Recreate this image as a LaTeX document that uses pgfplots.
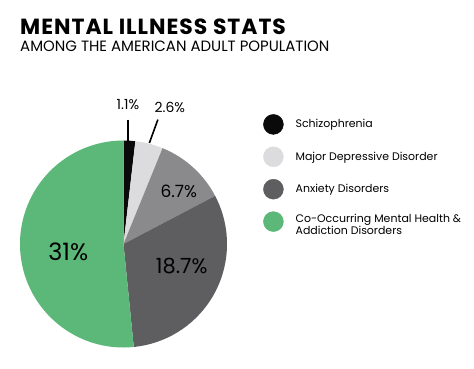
\documentclass[border=0pt]{standalone}
\usepackage{pgfplots}
\pgfplotsset{compat=1.18}
\usepackage{pgfplotstable}
\usepackage{fontspec}
\setmainfont{Poppins}
\definecolor{cSch}{HTML}{0A0A0A}
\definecolor{cMdd}{HTML}{DCDCDE}
\definecolor{cMid}{HTML}{8A8A8C}
\definecolor{cAnx}{HTML}{5E5E61}
\definecolor{cCo}{HTML}{5CB878}
\pgfplotstableread{
value
1.1
2.6
6.7
18.7
31
}\piedata
\begin{document}
\begin{tikzpicture}
\pgfplotstablegetelem{0}{value}\of\piedata \let\va\pgfplotsretval
\pgfplotstablegetelem{1}{value}\of\piedata \let\vb\pgfplotsretval
\pgfplotstablegetelem{2}{value}\of\piedata \let\vc\pgfplotsretval
\pgfplotstablegetelem{3}{value}\of\piedata \let\vd\pgfplotsretval
\pgfplotstablegetelem{4}{value}\of\piedata \let\ve\pgfplotsretval
\pgfmathsetmacro\tot{\va+\vb+\vc+\vd+\ve}
\pgfmathsetmacro\aA{90}
\pgfmathsetmacro\aB{\aA-360*\va/\tot}
\pgfmathsetmacro\aC{\aB-360*\vb/\tot}
\pgfmathsetmacro\aD{\aC-360*\vc/\tot}
\pgfmathsetmacro\aE{\aD-360*\vd/\tot}
\pgfmathsetmacro\aF{\aE-360*\ve/\tot}
\def\R{103.5bp}
\path[use as bounding box, fill=white] (0,0) rectangle (474bp,369bp);
\node[anchor=base west, inner sep=0pt, font=\fontsize{22}{26}\selectfont\bfseries\addfontfeatures{LetterSpace=4.5}] at (20bp,334bp) {MENTAL ILLNESS STATS};
\node[anchor=base west, inner sep=0pt, font=\fontsize{15}{18}\selectfont] at (20bp,317bp) {AMONG THE AMERICAN ADULT POPULATION};
\begin{axis}[
  at={(123.5bp,125bp)}, anchor=origin,
  x=103.5bp, y=103.5bp,
  xmin=-1, xmax=1, ymin=-1, ymax=1,
  hide axis, clip=false,
  legend cell align=left,
  legend style={at={(axis cs:1.348,1.256)}, anchor=north west, draw=none, fill=none,
    inner sep=0pt, row sep=12bp, column sep=0pt,
    font=\fontsize{11}{14}\selectfont,
    nodes={inner sep=0pt, anchor=west}},
]
\fill[cSch] (axis cs:0,0) -- ++(\aA:\R) arc[start angle=\aA, end angle=\aB, radius=\R] -- cycle;
\fill[cMdd] (axis cs:0,0) -- ++(\aB:\R) arc[start angle=\aB, end angle=\aC, radius=\R] -- cycle;
\fill[cMid] (axis cs:0,0) -- ++(\aC:\R) arc[start angle=\aC, end angle=\aD, radius=\R] -- cycle;
\fill[cAnx] (axis cs:0,0) -- ++(\aD:\R) arc[start angle=\aD, end angle=\aE, radius=\R] -- cycle;
\fill[cCo] (axis cs:0,0) -- ++(\aE:\R) arc[start angle=\aE, end angle=\aF, radius=\R] -- cycle;
\draw[line width=1.6bp] (axis cs:0.043,1.202) -- (axis cs:0.043,0.99);
\draw[line width=1.6bp] (axis cs:0.332,1.202) -- (axis cs:0.25,0.976);
\node[font=\fontsize{14}{16}\selectfont] at (axis cs:0.043,1.346) {1.1\%};
\node[font=\fontsize{14}{16}\selectfont] at (axis cs:0.447,1.317) {2.6\%};
\node[font=\fontsize{17}{20}\selectfont] at (axis cs:0.534,0.51) {6.7\%};
\node[font=\fontsize{21}{24}\selectfont] at (axis cs:0.5625,-0.212) {18.7\%};
\node[font=\fontsize{24}{28}\selectfont] at (axis cs:-0.534,-0.077) {31\%};
\addlegendimage{legend image code/.code={\fill[cSch] (10bp,0bp) circle (10bp);}}
\addlegendentry{\hspace*{12bp}Schizophrenia}
\addlegendimage{legend image code/.code={\fill[cMdd] (10bp,0bp) circle (10bp);}}
\addlegendentry{\hspace*{12bp}Major Depressive Disorder}
\addlegendimage{legend image code/.code={\fill[cAnx] (10bp,0bp) circle (10bp);}}
\addlegendentry{\hspace*{12bp}Anxiety Disorders}
\addlegendimage{legend image code/.code={\fill[cCo] (10bp,0bp) circle (10bp);}}
\addlegendentry{\begin{tabular}{@{\hspace*{12bp}}l@{}}Co-Occurring Mental Health \&\\[-2bp]Addiction Disorders\end{tabular}}
\end{axis}
\end{tikzpicture}
\end{document}
